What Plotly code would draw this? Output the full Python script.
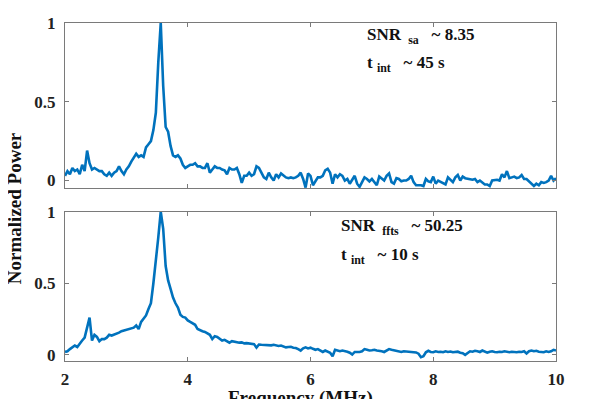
import numpy as np
import plotly.graph_objs as go
from plotly.subplots import make_subplots

# frequency grid (MHz)
freq = np.round(np.arange(2.0, 10.0001, 0.04), 2)

# spectrum analyser, normalized power
power_sa = [
    0.03, 0.06, 0.04, 0.08, 0.06, 0.07, 0.04, 0.10, 0.06, 0.19,
    0.11, 0.07, 0.08, 0.07, 0.06, 0.06, 0.04, 0.03, 0.05, 0.03,
    0.05, 0.06, 0.09, 0.06, 0.04, 0.07, 0.09, 0.12, 0.15, 0.17,
    0.15, 0.16, 0.15, 0.21, 0.23, 0.25, 0.32, 0.43, 0.75, 1.00,
    0.60, 0.34, 0.31, 0.22, 0.16, 0.15, 0.16, 0.14, 0.10, 0.08,
    0.09, 0.10, 0.10, 0.11, 0.09, 0.09, 0.08, 0.08, 0.11, 0.05,
    0.07, 0.09, 0.08, 0.08, 0.07, 0.065, 0.04, 0.08, 0.07, 0.07,
    0.08, 0.04, -0.015, 0.03, 0.03, 0.05, 0.03, 0.04, 0.09, 0.08,
    0.05, 0.02, 0.01, 0.05, 0.02, 0.00, 0.04, 0.02, 0.045, 0.03,
    0.02, 0.015, 0.02, 0.015, 0.02, 0.03, 0.05, 0.01, -0.045, 0.045,
    0.03, -0.03, 0.00, 0.02, 0.02, 0.03, 0.065, 0.075, 0.05, -0.02,
    0.04, 0.02, 0.04, 0.03, 0.00, 0.01, -0.02, 0.01, 0.03, -0.02,
    -0.04, -0.01, 0.02, 0.01, -0.005, 0.01, -0.01, -0.03, 0.025, 0.015,
    0.00, 0.03, 0.045, -0.01, -0.02, 0.015, 0.01, -0.005, 0.00, 0.00,
    0.01, 0.03, -0.01, -0.03, -0.03, -0.03, -0.035, 0.01, -0.005, -0.01,
    0.025, -0.02, 0.00, -0.01, -0.02, -0.025, 0.02, 0.005, -0.01, 0.02,
    0.035, 0.00, 0.025, 0.015, 0.01, 0.005, 0.005, 0.01, -0.01, 0.00,
    -0.01, -0.025, -0.025, -0.035, 0.00, 0.005, 0.005, 0.00, 0.04, 0.02,
    0.06, 0.015, 0.02, 0.025, 0.015, 0.02, 0.035, 0.01, 0.01, -0.005,
    -0.02, -0.035, -0.02, -0.03, -0.01, -0.015, -0.01, 0.00, 0.03, 0.00,
    0.015,
]

# FFTS, normalized power
power_ffts = [
    0.02, 0.025, 0.04, 0.05, 0.065, 0.055, 0.08, 0.10, 0.12, 0.19,
    0.26, 0.10, 0.14, 0.125, 0.095, 0.11, 0.11, 0.12, 0.14, 0.135,
    0.14, 0.15, 0.155, 0.165, 0.17, 0.18, 0.185, 0.19, 0.19, 0.205,
    0.18, 0.23, 0.255, 0.275, 0.32, 0.36, 0.50, 0.64, 0.82, 1.00,
    0.88, 0.62, 0.52, 0.46, 0.40, 0.36, 0.33, 0.28, 0.265, 0.26,
    0.24, 0.23, 0.22, 0.21, 0.18, 0.17, 0.165, 0.16, 0.15, 0.14,
    0.11, 0.13, 0.125, 0.115, 0.10, 0.105, 0.095, 0.085, 0.095, 0.09,
    0.088, 0.085, 0.087, 0.08, 0.082, 0.08, 0.078, 0.075, 0.05, 0.072,
    0.07, 0.068, 0.07, 0.064, 0.066, 0.07, 0.066, 0.062, 0.065, 0.058,
    0.052, 0.055, 0.056, 0.05, 0.048, 0.04, 0.03, 0.045, 0.052, 0.045,
    0.05, 0.042, 0.035, 0.04, 0.03, 0.02, 0.03, 0.022, 0.015, -0.01,
    0.035, 0.03, 0.025, 0.03, 0.028, 0.022, 0.015, 0.002, 0.02, 0.018,
    0.02, 0.025, 0.04, 0.035, 0.03, 0.032, 0.035, 0.03, 0.03, 0.025,
    0.02, 0.03, 0.04, 0.035, 0.03, 0.028, 0.022, 0.02, 0.025, 0.023,
    0.02, 0.018, 0.02, 0.017, 0.008, -0.016, -0.01, 0.018, 0.028, 0.02,
    0.018, 0.025, 0.02, 0.022, 0.018, 0.025, 0.02, 0.023, 0.018, 0.02,
    0.022, 0.015, 0.012, 0.0, 0.015, 0.025, 0.022, 0.028, 0.025, 0.02,
    0.03, 0.025, 0.015, 0.022, 0.025, 0.02, 0.018, 0.022, 0.02, 0.025,
    0.02, 0.018, 0.022, 0.02, 0.018, 0.022, 0.02, 0.025, 0.01, 0.025,
    0.03, 0.025, 0.028, 0.022, 0.02, 0.018, 0.025, 0.02, 0.025, 0.035,
    0.03,
]

x_ticks = [2, 4, 6, 8, 10]
y_ticks = [0, 0.5, 1]
y_tick_labels = ["0", "0.5", "1"]

sp = "&nbsp;"
notes_sa = [f"SNR{sp}<sub>{sp}sa</sub>{sp*3}~ 8.35", f"t{sp}<sub>int</sub>{sp*3}~ 45 s"]
notes_ffts = [f"SNR{sp}<sub>{sp}ffts</sub>{sp*3}~ 50.25", f"t{sp}<sub>int</sub>{sp*3}~ 10 s"]

FONT = "Liberation Serif, Times New Roman, serif"
BLUE = "#0072BD"
AXIS = "#7a7a7a"

fig = make_subplots(rows=2, cols=1, shared_xaxes=True)

fig.add_trace(go.Scatter(x=freq, y=power_sa, mode="lines",
                         line=dict(color=BLUE, width=2.6)), row=1, col=1)
fig.add_trace(go.Scatter(x=freq, y=power_ffts, mode="lines",
                         line=dict(color=BLUE, width=2.6)), row=2, col=1)

axis_style = dict(
    showline=True, linecolor=AXIS, linewidth=1, mirror="ticks",
    ticks="inside", ticklen=4, tickcolor=AXIS, showgrid=False, zeroline=False,
    tickfont=dict(family=FONT, size=17, color="#222", weight="bold"),
)

fig.update_xaxes(range=[2, 10], tickvals=x_ticks, ticklabelstandoff=3, **axis_style)
fig.update_xaxes(showticklabels=False, row=1, col=1)
fig.update_yaxes(tickvals=y_ticks, ticktext=y_tick_labels, ticklabelstandoff=5, **axis_style)
fig.update_yaxes(range=[-0.047, 1], row=1, col=1)
fig.update_yaxes(range=[-0.043, 1], row=2, col=1)

fig.update_layout(
    yaxis=dict(domain=[0.512, 1.0]),
    yaxis2=dict(domain=[0.0, 0.442]),
)

note_font = dict(family=FONT, size=17, color="#111", weight="bold")
title_font = dict(family=FONT, size=19, color="#111", weight="bold")

annotations = []
for txt, yy in zip(notes_sa, [0.92, 0.75]):
    annotations.append(dict(x=6.88, y=yy, xref="x", yref="y domain",
                            text=txt, showarrow=False, xanchor="left", yanchor="middle",
                            font=note_font))
for txt, yy in zip(notes_ffts, [0.90, 0.70]):
    annotations.append(dict(x=6.47, y=yy, xref="x2", yref="y2 domain",
                            text=txt, showarrow=False, xanchor="left", yanchor="middle",
                            font=note_font))
annotations.append(dict(x=-0.104, y=0.452, xref="paper", yref="paper", textangle=-90,
                        text="Normalized Power", showarrow=False,
                        xanchor="center", yanchor="middle", font=title_font))
annotations.append(dict(x=0.479, y=-0.072, xref="paper", yref="paper",
                        text="Frequency (MHz)", showarrow=False,
                        xanchor="center", yanchor="top", font=title_font))

# page body adds an 8px offset, so margins are shifted to compensate
fig.update_layout(
    width=598, height=399,
    margin=dict(l=57, r=50, t=6, b=46),
    paper_bgcolor="white", plot_bgcolor="white",
    showlegend=False,
    annotations=annotations,
)

fig.write_html("out.html")
